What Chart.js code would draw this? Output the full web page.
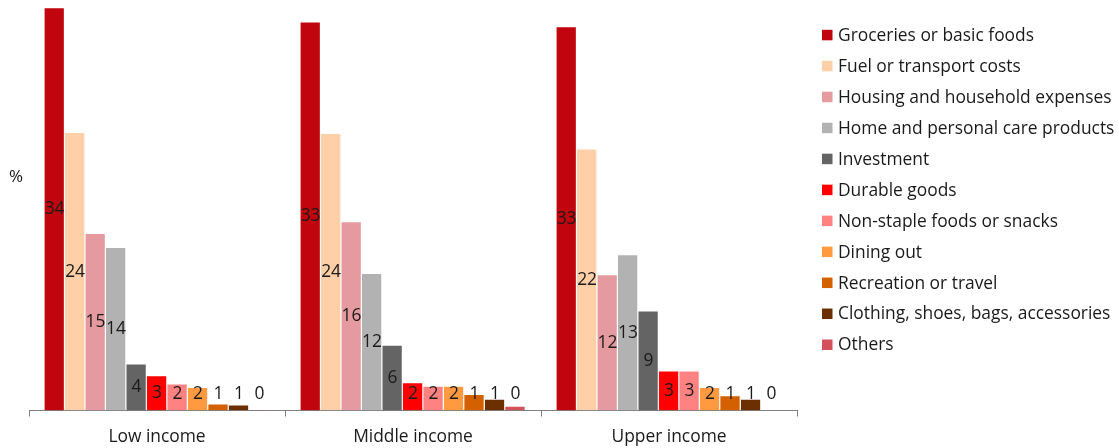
<!DOCTYPE html>
<html>
<head>
<meta charset="utf-8">
<script src="https://cdn.jsdelivr.net/npm/chart.js@4/dist/chart.umd.min.js"></script>
<style>
  html, body { margin: 0; padding: 0; background: #fff; }
  #wrap { position: relative; width: 1119px; height: 448px; }
</style>
</head>
<body>
<div id="wrap"><canvas id="spendChart"></canvas></div>
<script>
// categories and series
const categories = ['Low income', 'Middle income', 'Upper income'];
const seriesNames = [
  'Groceries or basic foods',
  'Fuel or transport costs',
  'Housing and household expenses',
  'Home and personal care products',
  'Investment',
  'Durable goods',
  'Non-staple foods or snacks',
  'Dining out',
  'Recreation or travel',
  'Clothing, shoes, bags, accessories',
  'Others'
];

// share of spending, %, same order as seriesNames
const lowIncome    = [34.3, 23.7, 15.1, 13.9, 4.0, 3.0, 2.3, 2.0, 0.6, 0.5, 0.1];
const middleIncome = [33.1, 23.6, 16.1, 11.7, 5.6, 2.4, 2.1, 2.1, 1.4, 1.0, 0.4];
const upperIncome  = [32.7, 22.3, 11.6, 13.3, 8.5, 3.4, 3.4, 2.0, 1.3, 1.0, 0];

const seriesColors = [
  '#C0050F', '#FFD0A8', '#E49A9E', '#B2B2B2', '#646464', '#FF0000',
  '#FF8282', '#FF9A40', '#D46100', '#6B2F00', '#D3515A'
];

const TEXT = '#1a1a1a';
const FONT = "17.4px 'Open Sans', sans-serif";
Chart.defaults.font.family = "'Open Sans', sans-serif";
Chart.defaults.font.size = 17.4;
Chart.defaults.color = TEXT;

const datasets = seriesNames.map((name, i) => ({
  label: name,
  data: [lowIncome[i], middleIncome[i], upperIncome[i]],
  backgroundColor: seriesColors[i],
  borderColor: 'rgba(255,255,255,0.45)',
  borderWidth: { top: 1, right: 1, left: 0, bottom: 0 },
  borderSkipped: 'start',
  barPercentage: 1,
  categoryPercentage: 0.88
}));

// value labels in the middle of each bar, kept clear of the axis for short bars
const valueLabels = {
  id: 'valueLabels',
  afterDatasetsDraw(chart) {
    const ctx = chart.ctx;
    ctx.save();
    ctx.font = FONT;
    ctx.fillStyle = TEXT;
    ctx.textAlign = 'center';
    ctx.textBaseline = 'middle';
    chart.data.datasets.forEach((ds, di) => {
      chart.getDatasetMeta(di).data.forEach((bar, i) => {
        const mid = (bar.y + bar.base) / 2;
        const y = Math.min(mid, bar.base - 16.5);
        ctx.fillText(String(Math.round(ds.data[i])), bar.x, y + 0.5);
      });
    });
    ctx.restore();
  }
};

// legend list on the right and the unit mark on the left
const sideText = {
  id: 'sideText',
  afterDraw(chart) {
    const ctx = chart.ctx;
    ctx.save();
    ctx.font = FONT;
    ctx.textBaseline = 'middle';
    ctx.textAlign = 'left';
    const boxX = chart.chartArea.right + 25;
    chart.data.datasets.forEach((ds, i) => {
      const cy = 34.8 + i * 30.97;
      ctx.fillStyle = ds.backgroundColor;
      ctx.fillRect(boxX, cy - 5, 10.5, 10.5);
      ctx.fillStyle = TEXT;
      ctx.fillText(ds.label, boxX + 16, cy + 1);
    });
    ctx.font = "17px 'Open Sans', sans-serif";
    ctx.textAlign = 'center';
    ctx.fillText('%', 16, 177);
    ctx.restore();
  }
};

new Chart(document.getElementById('spendChart'), {
  type: 'bar',
  data: { labels: categories, datasets: datasets },
  options: {
    responsive: true,
    maintainAspectRatio: false,
    animation: false,
    layout: { padding: { left: 29, right: 322, top: 5, bottom: 0 } },
    plugins: {
      legend: { display: false },
      tooltip: { enabled: false }
    },
    scales: {
      x: {
        afterFit(scale) { scale.height = 37.5; },
        grid: {
          display: true,
          drawOnChartArea: false,
          drawTicks: true,
          tickLength: 6,
          color: '#808080',
          offset: true
        },
        border: { display: true, color: '#808080', width: 1 },
        ticks: { padding: 10, color: TEXT, font: { size: 17.4 } }
      },
      y: {
        display: false,
        min: 0,
        max: 34.5
      }
    }
  },
  plugins: [valueLabels, sideText]
});
</script>
</body>
</html>
